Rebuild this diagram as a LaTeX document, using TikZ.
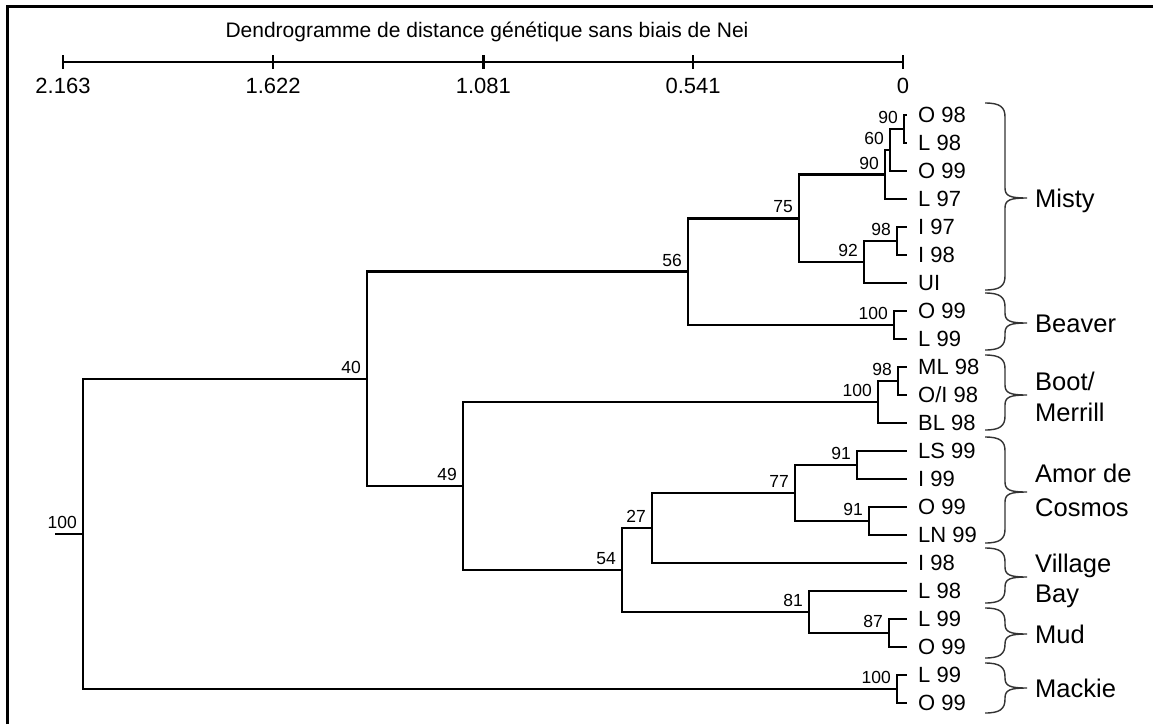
\documentclass[tikz,border=0pt]{standalone}
\usepackage{fontspec}
\setmainfont{Liberation Sans}
\newcommand\GrpBrace[3]{%
  \draw[bracestyle] (985,#1) .. controls (1000,#1) and (1005,#1+4) .. (1005,#1+14)
    -- (1005,#3-10) .. controls (1005,#3-2) and (1010,#3) .. (1027,#3)
    .. controls (1010,#3) and (1005,#3+2) .. (1005,#3+10)
    -- (1005,#2-14) .. controls (1005,#2-4) and (1000,#2) .. (985,#2);}
\begin{document}
\begin{tikzpicture}[x=1pt,y=-1pt,
  tree/.style={line width=2.5pt, black},
  boot/.style={font=\fontsize{17.5}{18}\selectfont, anchor=south east, inner sep=0pt},
  leaf/.style={font=\fontsize{22}{24}\selectfont, anchor=west, inner sep=0pt},
  grp/.style={font=\fontsize{25.5}{28}\selectfont, anchor=base west, inner sep=0pt},
  ticklab/.style={font=\fontsize{22}{24}\selectfont, inner sep=0pt},
  titlestyle/.style={font=\fontsize{21}{24}\selectfont, inner sep=0pt},
  bracestyle/.style={line width=1.4pt, black!80}]
\useasboundingbox (0,0) rectangle (1153,724);
\fill[white] (0,0) rectangle (1153,724);
% frame (top and left only visible)
\draw[line width=3pt] (7,724) -- (7,6) -- (1153,6);

% title and scale
\node[titlestyle] (title) at (487,32) {Dendrogramme de distance génétique sans biais de Nei};
\coordinate (s1) at (63,62);
\coordinate (s2) at (273.1,62);
\coordinate (s3) at (483.4,62);
\coordinate (s4) at (693.1,62);
\coordinate (s5) at (903,62);
\draw[line width=2.2pt] (s1) -- (s5);
\foreach \s in {s1,s2,s3,s4,s5}
  \draw[line width=2.6pt] ([yshift=7pt]\s) -- ([yshift=-7pt]\s);
\node[ticklab] (tl1) at (63,86) {2.163};
\node[ticklab] (tl2) at (273.1,86) {1.622};
\node[ticklab] (tl3) at (483.4,86) {1.081};
\node[ticklab] (tl4) at (693.1,86) {0.541};
\node[ticklab] (tl5) at (903,86) {0};

% leaves
\foreach \t [count=\i] in {O 98, L 98, O 99, L 97, I 97, I 98, UI, O 99, L 99, ML 98, O/I 98, BL 98, LS 99, I 99, O 99, LN 99, I 98, L 98, L 99, O 99, L 99, O 99}{
  \coordinate (L\i) at (907,87+28*\i);
  \node[leaf] (t\i) at (918,87+28*\i) {\t};
}

% internal nodes
\coordinate (n90a) at (904,129);
\coordinate (n60) at (890,150);
\coordinate (n90b) at (885,174.5);
\coordinate (n98a) at (897,241);
\coordinate (n92) at (864,262);
\coordinate (n75) at (799,218.25);
\coordinate (n100a) at (894,325);
\coordinate (n56) at (688,271.6);
\coordinate (n98b) at (898,381);
\coordinate (n100b) at (878,402);
\coordinate (n91a) at (857,465);
\coordinate (n91b) at (869,521);
\coordinate (n77) at (795,493);
\coordinate (n27) at (652,528);
\coordinate (n87) at (889,633);
\coordinate (n81) at (809,612);
\coordinate (n54) at (622,570);
\coordinate (n49) at (463,486);
\coordinate (n40) at (367,378.8);
\coordinate (n100c) at (897,689);
\coordinate (root) at (83,533.9);
\coordinate (rootstub) at (55,533.9);

% branches
\foreach \p/\c in {n90a/L1, n90a/L2, n60/n90a, n60/L3, n90b/n60, n90b/L4,
  n98a/L5, n98a/L6, n92/n98a, n92/L7, n75/n90b, n75/n92,
  n100a/L8, n100a/L9, n56/n75, n56/n100a,
  n98b/L10, n98b/L11, n100b/n98b, n100b/L12,
  n91a/L13, n91a/L14, n91b/L15, n91b/L16, n77/n91a, n77/n91b,
  n27/n77, n27/L17, n87/L19, n87/L20, n81/L18, n81/n87,
  n54/n27, n54/n81, n49/n100b, n49/n54, n40/n56, n40/n49,
  n100c/L21, n100c/L22, root/n40, root/n100c}
  \draw[tree] (\p) |- (\c);
\draw[tree] (rootstub) -- (root);

% bootstrap values
\foreach \n/\v in {n90a/90, n60/60, n90b/90, n98a/98, n92/92, n75/75, n100a/100,
  n56/56, n98b/98, n100b/100, n91a/91, n91b/91, n77/77, n27/27, n87/87, n81/81,
  n54/54, n49/49, n40/40, n100c/100, root/100}
  \node[boot] (b\n) at ([xshift=-6pt,yshift=5pt]\n) {\v};

% braces
\GrpBrace{103}{290}{198}
\GrpBrace{293}{350}{323}
\GrpBrace{355}{430}{395}
\GrpBrace{437}{543}{492}
\GrpBrace{548}{603}{577}
\GrpBrace{608}{658}{634}
\GrpBrace{663}{713}{688}

% group names
\node[grp] (gMisty) at (1035,207) {Misty};
\node[grp] (gBeaver) at (1035,332) {Beaver};
\node[grp] (gBoot) at (1035,390) {Boot/};
\node[grp] (gMerrill) at (1035,421) {Merrill};
\node[grp] (gAmor) at (1035,482) {Amor de};
\node[grp] (gCosmos) at (1035,516) {Cosmos};
\node[grp] (gVillage) at (1035,572) {Village};
\node[grp] (gBay) at (1035,602) {Bay};
\node[grp] (gMud) at (1035,643) {Mud};
\node[grp] (gMackie) at (1035,697) {Mackie};
\end{tikzpicture}
\end{document}
